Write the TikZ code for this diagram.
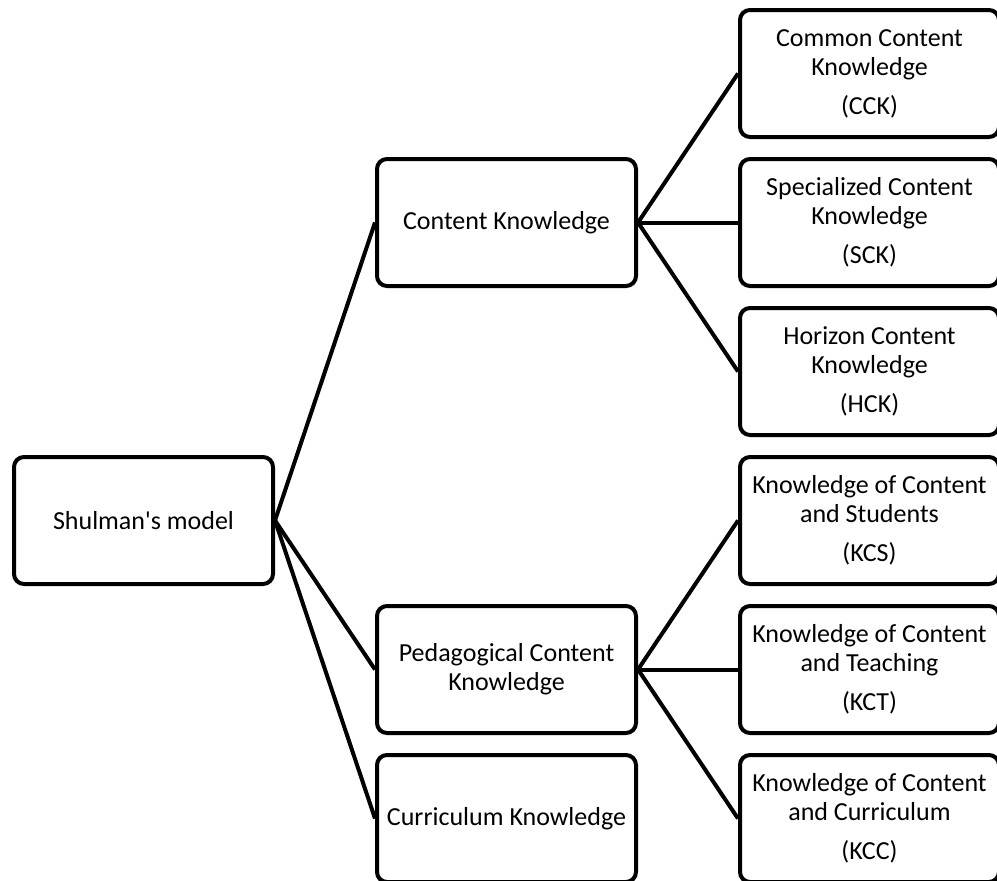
\documentclass[tikz,border=0pt]{standalone}
\usepackage{fontspec}
\setmainfont{Carlito}
\begin{document}
\begin{tikzpicture}[x=1pt,y=-1pt,
  box/.style={draw=black, line width=4pt, rounded corners=10pt, fill=white,
    minimum width=259pt, minimum height=127pt, align=center, inner sep=1pt,
    font=\fontsize{26}{29}\selectfont},
  link/.style={draw=black, line width=4pt, line join=round}]
\useasboundingbox (0,0) rectangle (997,881);
% left
\node[box] (sh) at (143.5,520.5) {Shulman\textquotesingle s model};
% middle
\node[box] (ck) at (506.5,222.5) {Content Knowledge};
\node[box] (pck) at (506.5,669.5) {Pedagogical Content\\Knowledge};
\node[box] (cur) at (506.5,818.5) {Curriculum Knowledge};
% right
\node[box] (cck) at (869.5,73.5) {Common Content\\Knowledge\\[10pt](CCK)};
\node[box] (sck) at (869.5,222.5) {Specialized Content\\Knowledge\\[10pt](SCK)};
\node[box] (hck) at (869.5,371.5) {Horizon Content\\Knowledge\\[10pt](HCK)};
\node[box] (kcs) at (869.5,520.5) {Knowledge of Content\\and Students\\[10pt](KCS)};
\node[box] (kct) at (869.5,669.5) {Knowledge of Content\\and Teaching\\[10pt](KCT)};
\node[box] (kcc) at (869.5,818.5) {Knowledge of Content\\and Curriculum\\[10pt](KCC)};
% connectors
\draw[link] (sh.east) -- (ck.west);
\draw[link] (sh.east) -- (pck.west);
\draw[link] (sh.east) -- (cur.west);
\draw[link] (ck.east) -- (cck.west);
\draw[link] (ck.east) -- (sck.west);
\draw[link] (ck.east) -- (hck.west);
\draw[link] (pck.east) -- (kcs.west);
\draw[link] (pck.east) -- (kct.west);
\draw[link] (pck.east) -- (kcc.west);
\end{tikzpicture}
\end{document}
